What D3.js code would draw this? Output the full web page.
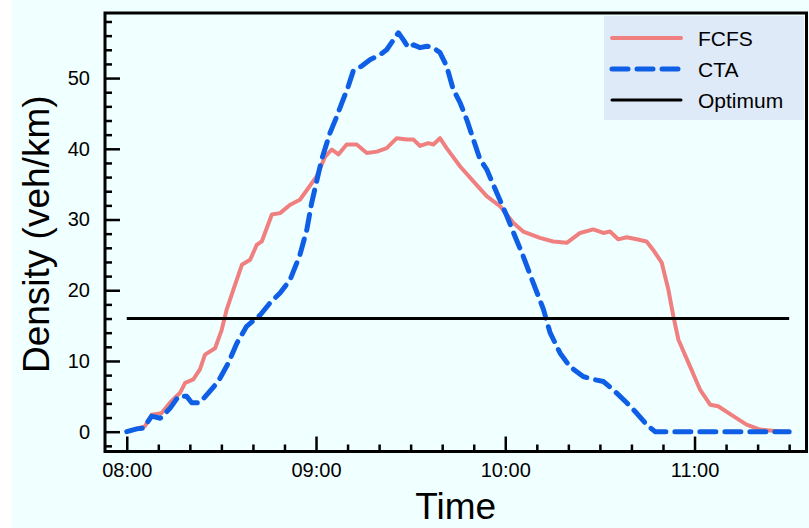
<!DOCTYPE html>
<html>
<head>
<meta charset="utf-8">
<script src="https://cdn.jsdelivr.net/npm/d3@7"></script>
<style>
  html, body { margin: 0; padding: 0; background: #ffffff; }
  svg { display: block; font-family: "Liberation Sans", Arial, Helvetica, sans-serif; }
</style>
</head>
<body>
<svg id="chart" width="809" height="528"></svg>
<script>
// Time in minutes after 08:00, density in veh/km
const fcfsTime = [0, 5.8, 7.9, 11, 13.7, 16.9, 18.5, 21.1, 23.2, 24.8, 28, 30.1, 31.7, 33.8, 36.5, 39.1, 41.2, 42.8, 46, 48.6, 51.8, 54.9,
  60.2, 62.9, 65, 67.1, 69.7, 72.9, 76.1, 79.3, 82.4, 85.6, 88.8, 90.9, 93, 95.6, 97.2, 99.3, 101.4, 105.7, 109.9, 114.1, 118.3,
  122.6, 125.7, 131, 135.2, 139.5, 143.7, 147.9, 151.1, 153.2, 155.8, 158.5, 161.7, 164.8, 166.9, 169.6, 171.7, 173.3, 174.9,
  178.6, 181.8, 185, 187.5, 192.3, 196.5, 200.8, 208.1, 210];
const fcfsDensity = [0, 0.8, 2.4, 2.6, 4.1, 5.5, 6.9, 7.4, 8.8, 10.9, 11.8, 14.4, 17.3, 20.1, 23.6, 24.3, 26.4, 26.9, 30.7, 30.9, 32.1, 32.8,
  36.1, 38.9, 39.9, 39.2, 40.6, 40.6, 39.4, 39.6, 40.1, 41.5, 41.3, 41.3, 40.4, 40.8, 40.6, 41.5, 40.1, 37.5, 35.4, 33.3, 31.9,
  29.5, 28.3, 27.4, 26.9, 26.7, 28.1, 28.6, 28.1, 28.3, 27.2, 27.5, 27.2, 26.9, 25.7, 23.9, 20.1, 16.3, 13.0,
  9.2, 5.9, 3.8, 3.6, 2.2, 1.0, 0.3, 0, 0];

const ctaTime = [0, 3.2, 5.3, 7.9, 10.6, 13.7, 16.4, 19, 20.6, 23.2, 25.9, 29, 32.2, 34.9, 38, 42.3, 45.4, 48.6, 51.8, 54.9, 57.1, 58.6,
  61.8, 64.4, 66.6, 68.2, 70.2, 71.8, 74.5, 77.1, 80.3, 82.4, 86.1, 87.7, 89.3, 90.9, 93, 95.1, 97.2, 99.3, 101.4, 103.5, 105.7,
  107.8, 109.9, 112, 114.1, 117.3, 120.5, 123.1, 125.7, 128.9, 132.1, 134.2, 137.4, 140.5, 144.7, 147.9, 151.1, 154.3, 158.5,
  161.7, 164.8, 167.5, 180, 195, 210];
const ctaDensity = [0, 0.4, 0.5, 2.2, 1.9, 3.3, 5.0, 5.0, 4.1, 4.1, 5.5, 7.1, 9.7, 12.5, 14.9, 16.5, 18.2, 19.6, 21.5, 25.0, 28.6, 32.3,
  38.5, 42.2, 44.6, 46.5, 48.8, 51.0, 51.7, 52.6, 53.3, 54.0, 56.4, 55.4, 54.3, 54.7, 54.3, 54.5, 54.3, 53.6, 51.7, 48.4, 46.5,
  44.1, 41.3, 38.5, 37.1, 33.8, 30.5, 27.6, 24.8, 21.0, 17.3, 14.0, 11.1, 9.2, 7.8, 7.4, 7.1, 5.9, 4.1,
  2.6, 1.0, 0, 0, 0, 0];

const optimumDensity = 16;
const optimumSpan = [0, 210];

const seriesNames = ["FCFS", "CTA", "Optimum"];
const xTickValues = [0, 60, 120, 180];
const xTickLabels = ["08:00", "09:00", "10:00", "11:00"];
const yTickValues = [0, 10, 20, 30, 40, 50];

const svg = d3.select("#chart");
const W = 809, H = 528;
const box = { left: 105, top: 13, right: 806.5, bottom: 451.5 };

// page background
svg.append("rect").attr("x", 12).attr("y", 0).attr("width", W - 12).attr("height", H).attr("fill", "#f0ffff");

const x = d3.scaleLinear().domain([-6.9, 215.5]).range([box.left, box.right]);
const y = d3.scaleLinear().domain([-2.8, 59.2]).range([box.bottom, box.top]);

// minor ticks
const xMinor = d3.range(0, 211, 10).filter(v => !xTickValues.includes(v));
const yMinor = d3.range(-2, 59, 2).filter(v => !yTickValues.includes(v));

const tickStyle = g => {
  g.select(".domain").remove();
  g.selectAll(".tick line").attr("stroke", "#000").attr("stroke-width", 2.5);
  g.selectAll(".tick text").attr("fill", "#000").attr("font-size", 20)
    .attr("font-family", "'Liberation Sans', Arial, sans-serif");
};

svg.append("g").attr("transform", `translate(0,${box.bottom})`)
  .call(d3.axisBottom(x).tickValues(xMinor).tickSize(-7).tickFormat(""))
  .call(tickStyle);
svg.append("g").attr("transform", `translate(0,${box.bottom})`)
  .call(d3.axisBottom(x).tickValues(xTickValues).tickSize(-15).tickPadding(11)
    .tickFormat((d, i) => xTickLabels[i]))
  .call(tickStyle);

svg.append("g").attr("transform", `translate(${box.left},0)`)
  .call(d3.axisLeft(y).tickValues(yMinor).tickSize(-7).tickFormat(""))
  .call(tickStyle);
svg.append("g").attr("transform", `translate(${box.left},0)`)
  .call(d3.axisLeft(y).tickValues(yTickValues).tickSize(-15).tickPadding(15).tickFormat(d3.format("d")))
  .call(tickStyle);

// series
const pink = "#f08080", blue = "#0f5fe6";
const line = d3.line().x(d => x(d[0])).y(d => y(d[1])).curve(d3.curveLinear);

svg.append("path")
  .datum(fcfsTime.map((t, i) => [t, fcfsDensity[i]]))
  .attr("d", line).attr("fill", "none").attr("stroke", pink)
  .attr("stroke-width", 4).attr("stroke-linejoin", "round").attr("stroke-linecap", "round");

svg.append("path")
  .datum(ctaTime.map((t, i) => [t, ctaDensity[i]]))
  .attr("d", line).attr("fill", "none").attr("stroke", blue)
  .attr("stroke-width", 5).attr("stroke-dasharray", "16,9")
  .attr("stroke-linejoin", "round").attr("stroke-linecap", "round");

svg.append("path")
  .datum(optimumSpan.map(t => [t, optimumDensity]))
  .attr("d", line).attr("fill", "none").attr("stroke", "#000").attr("stroke-width", 3);

// frame
svg.append("rect")
  .attr("x", box.left).attr("y", box.top)
  .attr("width", box.right - box.left).attr("height", box.bottom - box.top)
  .attr("fill", "none").attr("stroke", "#000").attr("stroke-width", 3);

// legend
const legend = svg.append("g");
legend.append("rect").attr("x", 604).attr("y", 16).attr("width", 200).attr("height", 104).attr("fill", "#dfeaf8");
const legendStyles = [
  { stroke: pink, width: 4, dash: null },
  { stroke: blue, width: 5, dash: "16,9" },
  { stroke: "#000", width: 3, dash: null }
];
seriesNames.forEach((name, i) => {
  const ly = 38 + i * 31;
  const s = legendStyles[i];
  legend.append("line").attr("x1", 612).attr("x2", 681).attr("y1", ly).attr("y2", ly)
    .attr("stroke", s.stroke).attr("stroke-width", s.width)
    .attr("stroke-linecap", "round")
    .attr("stroke-dasharray", s.dash);
  legend.append("text").attr("x", 698).attr("y", ly + 7.5).attr("font-size", 21).attr("fill", "#000").text(name);
});

// axis titles
svg.append("text").attr("x", (box.left + box.right) / 2).attr("y", 519)
  .attr("text-anchor", "middle").attr("font-size", 37).attr("fill", "#000").text("Time");
svg.append("text").attr("transform", `translate(49,${(box.top + box.bottom) / 2 + 2}) rotate(-90)`)
  .attr("text-anchor", "middle").attr("font-size", 37).attr("fill", "#000").text("Density (veh/km)");
</script>
</body>
</html>
